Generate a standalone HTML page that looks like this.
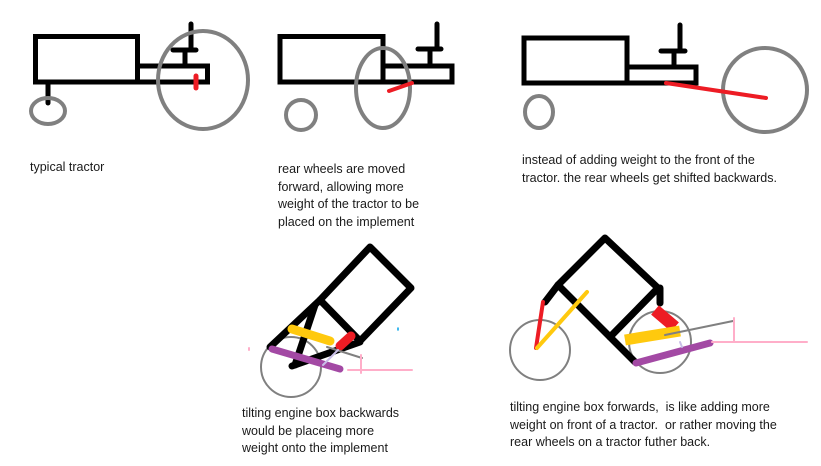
<!DOCTYPE html>
<html><head><meta charset="utf-8"><style>
html,body{margin:0;padding:0;background:#fff;}
body{width:821px;height:466px;overflow:hidden;position:relative;}
svg{position:absolute;left:0;top:0;}
.t{position:absolute;font-family:"Liberation Sans",sans-serif;font-size:12.5px;line-height:17.7px;color:#1a1a1a;white-space:nowrap;}
</style></head><body>
<svg width="821" height="466" viewBox="0 0 821 466" fill="none" stroke-linecap="round">
<!-- panel 1 -->
<g stroke="#000" stroke-width="5">
<rect x="35.5" y="36.5" width="102" height="45.5"/>
<rect x="137.5" y="66" width="70" height="16"/>
<line x1="191" y1="24" x2="191" y2="50"/>
<line x1="173" y1="50" x2="196" y2="50"/>
<line x1="185" y1="50" x2="185" y2="64"/>
<line x1="48" y1="84" x2="48" y2="103"/>
</g>
<g stroke="#808080" stroke-width="4">
<ellipse cx="48" cy="111" rx="17" ry="13"/>
<ellipse cx="203" cy="80" rx="45" ry="49"/>
</g>
<line x1="196" y1="76" x2="196" y2="88" stroke="#ed1c24" stroke-width="5"/>
<!-- panel 2 -->
<g stroke="#000" stroke-width="5">
<rect x="280" y="36.5" width="103" height="45.5"/>
<rect x="383" y="66" width="69" height="16"/>
<line x1="437" y1="24" x2="437" y2="48"/>
<line x1="418" y1="49" x2="441" y2="49"/>
<line x1="430" y1="49" x2="430" y2="64"/>
</g>
<g stroke="#808080" stroke-width="4">
<circle cx="301" cy="115" r="15"/>
<ellipse cx="383" cy="88" rx="27" ry="40"/>
</g>
<line x1="389" y1="91" x2="412" y2="83" stroke="#ed1c24" stroke-width="4"/>
<!-- panel 3 -->
<g stroke="#000" stroke-width="5">
<rect x="524" y="38" width="103" height="45"/>
<rect x="627" y="67" width="69" height="16"/>
<line x1="680" y1="25" x2="680" y2="50"/>
<line x1="661" y1="51" x2="685" y2="51"/>
<line x1="674" y1="51" x2="674" y2="66"/>
</g>
<g stroke="#808080" stroke-width="4">
<ellipse cx="539" cy="112" rx="14" ry="16"/>
<circle cx="765" cy="90" r="42"/>
</g>
<line x1="666" y1="83" x2="766" y2="98" stroke="#ed1c24" stroke-width="4"/>
<!-- panel 4 -->
<circle cx="291" cy="367" r="30" stroke="#808080" stroke-width="2"/>
<g stroke="#000" stroke-width="7" stroke-linejoin="round">
<polygon points="370,247 411,288 360,341 320,300"/>
<line x1="320" y1="300" x2="270" y2="347"/>
<line x1="315" y1="305" x2="295" y2="365"/>
<line x1="292" y1="366" x2="360" y2="342"/>
</g>
<line x1="292" y1="329" x2="330" y2="341" stroke="#ffc90e" stroke-width="9"/>
<line x1="340" y1="346" x2="351" y2="336" stroke="#ed1c24" stroke-width="9"/>
<line x1="272" y1="349" x2="340" y2="369" stroke="#a349a4" stroke-width="7"/>
<line x1="327" y1="347" x2="362" y2="358" stroke="#808080" stroke-width="2"/>
<line x1="338" y1="350" x2="323" y2="365" stroke="#c8bfe7" stroke-width="2"/>
<g stroke="#ffaec9" stroke-width="2">
<line x1="348" y1="370" x2="412" y2="370"/>
<line x1="361" y1="355" x2="361" y2="373"/>
<line x1="249" y1="348" x2="249" y2="350"/>
</g>
<line x1="398" y1="328" x2="398" y2="330" stroke="#00a2e8" stroke-width="1.5"/>
<!-- panel 5 -->
<circle cx="540" cy="350" r="30" stroke="#808080" stroke-width="2"/>
<circle cx="660" cy="342" r="31" stroke="#808080" stroke-width="2"/>
<g stroke="#000" stroke-width="7" stroke-linejoin="round">
<polygon points="605,238 658,288 610,337 558,285"/>
<line x1="558" y1="285" x2="545" y2="302"/>
<line x1="610" y1="337" x2="635" y2="362"/>
<line x1="660" y1="288" x2="660" y2="303"/>
</g>
<line x1="543" y1="302" x2="536" y2="348" stroke="#ed1c24" stroke-width="4"/>
<line x1="537" y1="348" x2="587" y2="292" stroke="#ffc90e" stroke-width="4"/>
<line x1="655" y1="310" x2="675" y2="327" stroke="#ed1c24" stroke-width="12" stroke-linecap="butt"/>
<line x1="625" y1="340" x2="680" y2="331" stroke="#ffc90e" stroke-width="11" stroke-linecap="butt"/>
<line x1="636" y1="363" x2="710" y2="343" stroke="#a349a4" stroke-width="7"/>
<line x1="665" y1="335" x2="733" y2="321" stroke="#808080" stroke-width="2"/>
<line x1="680" y1="342" x2="682" y2="347" stroke="#c8bfe7" stroke-width="2"/>
<g stroke="#ffaec9" stroke-width="2">
<line x1="712" y1="342" x2="807" y2="342"/>
<line x1="734" y1="318" x2="734" y2="342"/>
</g>
</svg>
<div class="t" style="left:30px;top:159px;">typical tractor</div>
<div class="t" style="left:278px;top:161px;">rear wheels are moved<br>forward, allowing more<br>weight of the tractor to be<br>placed on the implement</div>
<div class="t" style="left:522px;top:152px;">instead of adding weight to the front of the<br>tractor. the rear wheels get shifted backwards.</div>
<div class="t" style="left:242px;top:405px;">tilting engine box backwards<br>would be placeing more<br>weight onto the implement</div>
<div class="t" style="left:510px;top:399px;">tilting engine box forwards,&nbsp; is like adding more<br>weight on front of a tractor.&nbsp; or rather moving the<br>rear wheels on a tractor futher back.</div>
</body></html>
